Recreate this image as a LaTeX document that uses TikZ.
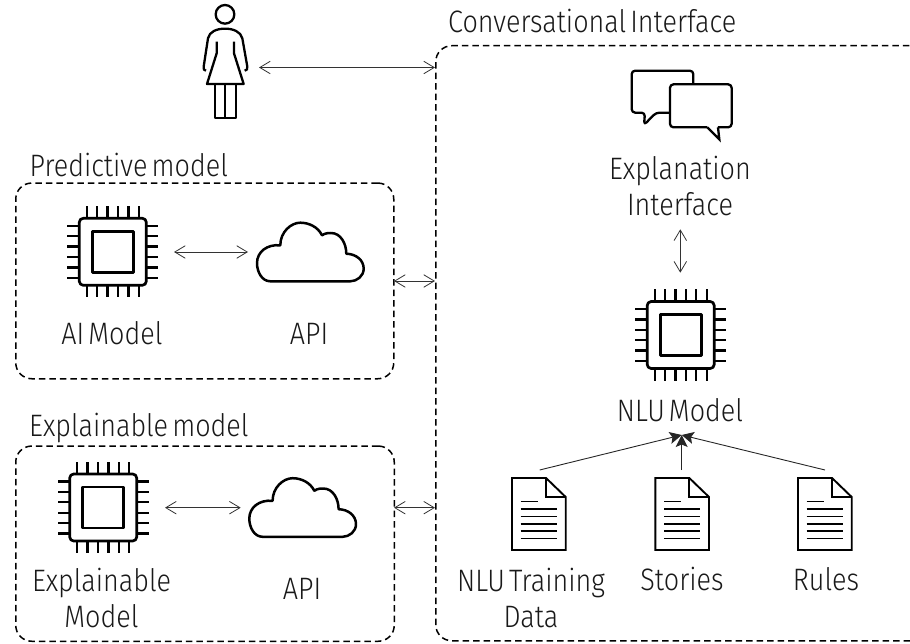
\documentclass[tikz,border=0pt]{standalone}
\usepackage{fontspec}
\setmainfont[FakeStretch=0.87,WordSpace=0.55]{Fira Sans Light}
\usetikzlibrary{arrows.meta}
\tikzset{
 x=1pt,y=-1pt,
 ico/.style={line width=2.3pt,line join=round,black},
 dbox/.style={draw=black,line width=1.5pt,dash pattern=on 6.5pt off 4pt,rounded corners=16pt,inner sep=0pt,anchor=north west},
 biarrow/.style={draw=black!80,line width=0.8pt,{Straight Barb[length=10.5pt,width=12.5pt,line width=0.8pt]}-{Straight Barb[length=10.5pt,width=12.5pt,line width=0.8pt]}},
 feed/.style={draw=black!85,line width=0.9pt,-{Stealth[length=12pt,width=12pt,inset=2.5pt]}},
 lbl/.style={inner sep=0pt,font=\fontsize{31}{36.7}\selectfont,align=center,text=black!90},
 tlbl/.style={lbl,anchor=base west},
 blbl/.style={lbl,anchor=base},
 chip/.pic={
  \draw[ico,line width=2.7pt,rounded corners=4pt] (-33.5,-33.5) rectangle (33.5,33.5);
  \draw[ico,line width=2.7pt] (-20.5,-20.5) rectangle (20.5,20.5);
  \foreach \o in {-26,-15.6,-5.2,5.2,15.6,26}{
   \draw[ico] (\o,-33.5) -- (\o,-45.5);
   \draw[ico] (\o,33.5) -- (\o,45.5);
   \draw[ico] (-33.5,\o) -- (-45.5,\o);
   \draw[ico] (33.5,\o) -- (45.5,\o);
  }
 },
 cloudicon/.pic={
  \draw[ico,line width=2.5pt] (13.3,59.3) .. controls (5,59.3) and (0,50) .. (0,41)
   .. controls (0,30) and (10,22) .. (23.3,23.3)
   .. controls (23.3,10) and (34,0.7) .. (43.3,0.7)
   .. controls (52,0.7) and (61,5) .. (65,13.3)
   .. controls (68,11) and (72,11) .. (74,11)
   .. controls (84,11) and (89.3,22) .. (89.3,31.7)
   .. controls (99,32) and (106.7,38) .. (106.7,46.7)
   .. controls (106.7,54) and (100,59.3) .. (93.3,59.3) -- cycle;
 },
 docicon/.pic={
  \draw[ico,line width=1.9pt,line join=miter] (0,0) -- (34,0) -- (53.7,19) -- (53.7,72) -- (0,72) -- cycle;
  \draw[ico,line width=1.9pt,line join=miter] (34,0) -- (34,19) -- (53.7,19);
  \draw[ico,line width=1.7pt] (8.7,23.4) -- (25.7,23.4);
  \foreach \y in {31,38.4,45.7,53,60.4}{\draw[ico,line width=1.7pt] (8.7,\y) -- (44.7,\y);}
 },
}
\begin{document}
\begin{tikzpicture}
\useasboundingbox (0,0) rectangle (910,644);
% dashed boxes
\begin{scope}
\clip (0,0) rectangle (910,644);
\node[dbox,minimum height=595pt,minimum width=500pt] (conv) at (435,45) {};
\end{scope}
\node[dbox,minimum height=195.7pt,minimum width=378pt] (pred) at (15,182.3) {};
\node[dbox,minimum height=195.2pt,minimum width=378.5pt] (expl) at (15,445.3) {};
% person
\begin{scope}[shift={(180,0)},x=0.3333pt,y=-0.3333pt]
 \draw[ico] (135,43) circle (28);
 \draw[ico] (78,212) .. controls (72,212) and (70,208) .. (71,200) -- (84,115)
  .. controls (88,95) and (110,86) .. (135,86) .. controls (160,86) and (182,95) .. (187,115)
  -- (202,200) .. controls (203,208) and (200,212) .. (194,212);
 \draw[ico] (110,125) -- (110,160) -- (81,252) -- (191,252) -- (162,160) -- (162,125);
 \draw[ico] (104,252) -- (104,355) -- (169,355) -- (169,252);
 \draw[ico] (136,252) -- (136,355);
\end{scope}
% bubbles
\begin{scope}[shift={(600,50)},x=0.3333pt,y=-0.3333pt]
 \draw[ico,rounded corners=3.5pt] (210,188) -- (168,188) -- (132,225) -- (135,188) -- (95,188) -- (95,62) -- (280,62) -- (280,103);
 \draw[ico,rounded corners=3.5pt] (322,232) -- (210,232) -- (210,103) -- (395,103) -- (395,232) -- (354,232);
 \draw[ico,line join=miter] (322,232) -- (358,268) -- (354,232);
\end{scope}
% chips
\pic at (112.8,251.8) {chip};
\pic at (103.2,507.5) {chip};
\pic at (680.7,335) {chip};
% clouds
\pic at (257,222) {cloudicon};
\pic at (249.3,477.5) {cloudicon};
% documents
\pic at (512,478) {docicon};
\pic at (655.3,478) {docicon};
\pic at (798,478) {docicon};
% text
\node[tlbl] (t1) at (448,32.5) {Conversational Interface};
\node[tlbl] (t2) at (29.5,176.7) {Predictive model};
\node[tlbl] (t3) at (29,436.5) {Explainable model};
\node[blbl] (aim) at (112,344) {AI Model};
\node[blbl] (api1) at (309,344) {API};
\node[lbl] (ei) at (680,186) {Explanation\\Interface};
\node[blbl] (nlu) at (680,421.5) {NLU Model};
\node[lbl] (em) at (101.5,598) {Explainable\\Model};
\node[blbl] (api2) at (302,599.5) {API};
\node[lbl] (td) at (531,598) {NLU Training\\Data};
\node[blbl] (st) at (682,590) {Stories};
\node[blbl] (ru) at (826,590) {Rules};
% connectors
\coordinate (c1) at (259,67.5); \coordinate (c2) at (435,67.5);
\draw[biarrow] (c1) -- (c2);
\coordinate (a1) at (174,252); \coordinate (a2) at (248,252);
\draw[biarrow] (a1) -- (a2);
\coordinate (b1) at (165,507.7); \coordinate (b2) at (240.7,507.7);
\draw[biarrow] (b1) -- (b2);
\coordinate (p1) at (394,281); \coordinate (p2) at (435,281);
\draw[biarrow] (p1) -- (p2);
\coordinate (e1) at (394,507.7); \coordinate (e2) at (435,507.7);
\draw[biarrow] (e1) -- (e2);
\coordinate (v1) at (680.3,229.3); \coordinate (v2) at (680.3,272.7);
\draw[biarrow] (v1) -- (v2);
\coordinate (apex) at (681.7,435);
\coordinate (f1) at (539.7,470); \coordinate (f2) at (681.7,470); \coordinate (f3) at (825,470);
\draw[feed] (f1) -- (apex);
\draw[feed] (f2) -- (apex);
\draw[feed] (f3) -- (apex);
\end{tikzpicture}
\end{document}
